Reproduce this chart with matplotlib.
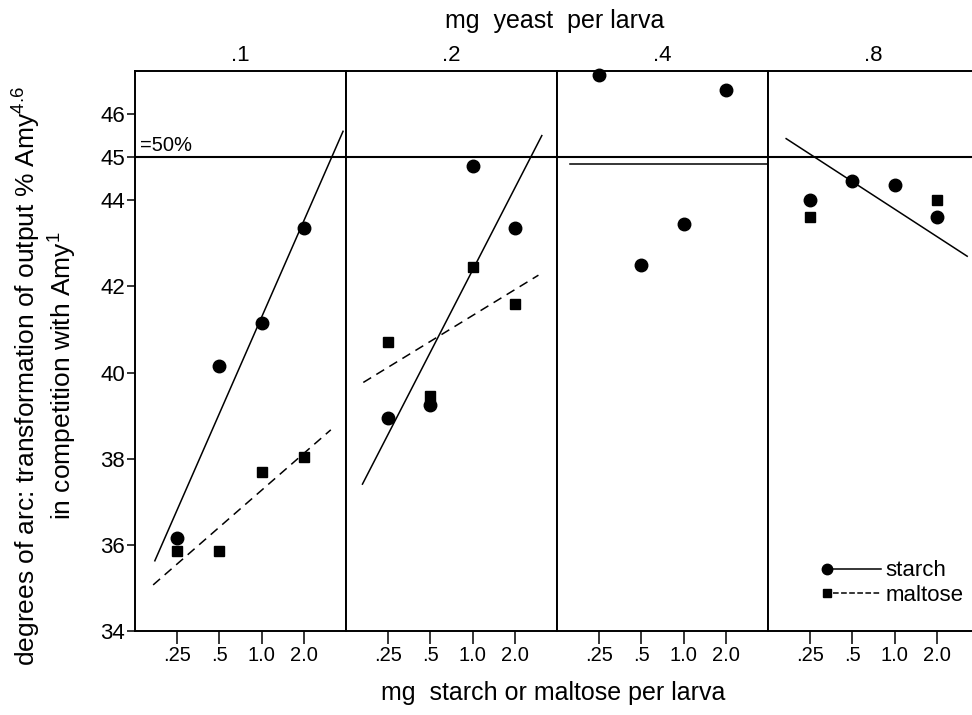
import numpy as np
import matplotlib
matplotlib.use("Agg")
import matplotlib.pyplot as plt
from matplotlib.lines import Line2D
from matplotlib.legend_handler import HandlerBase

plt.rcParams['font.family'] = ['Liberation Sans', 'DejaVu Sans']
plt.rcParams['mathtext.default'] = 'regular'

# Data
yeast_levels = ['.1', '.2', '.4', '.8']
sugar_levels = ['.25', '.5', '1.0', '2.0']

starch_vals = [
    [36.15, 40.15, 41.15, 43.35],
    [38.95, 39.25, 44.80, 43.35],
    [46.90, 42.50, 43.45, 46.55],
    [44.00, 44.45, 44.35, 43.60],
]
maltose_vals = [
    [35.85, 35.85, 37.70, 38.05],
    [40.70, 39.45, 42.45, 41.60],
    [np.nan, np.nan, np.nan, np.nan],
    [43.60, np.nan, np.nan, 44.00],
]

# fitted lines per panel: (x start, x end, y start, y end), None = no line
starch_fit = [
    (0.47, 4.93, 35.63, 45.60),
    (0.39, 4.64, 37.41, 45.50),
    (0.30, 5.00, 44.83, 44.83),
    (0.43, 4.72, 45.43, 42.70),
]
maltose_fit = [
    (0.43, 4.64, 35.07, 38.67),
    (0.41, 4.56, 39.77, 42.26),
    None,
    None,
]

fifty_pct = 45

fig = plt.figure(figsize=(9.72, 7.15), dpi=100)

left = 135 / 972
pw = 211 / 972
bottom = 1 - 631 / 715
height = (631 - 71) / 715
xpos = np.arange(1, 5)

axes = []
for i in range(4):
    w = pw if i < 3 else (972 - 767) / 972
    ax = fig.add_axes([left + i * pw, bottom, w, height])
    axes.append(ax)

    ax.plot(xpos, starch_vals[i], 'o', color='black', ms=9, zorder=3,
            clip_on=False)
    ax.plot(xpos, maltose_vals[i], 's', color='black', ms=6.5, zorder=3)

    f = starch_fit[i]
    ax.plot([f[0], f[1]], [f[2], f[3]], '-', color='black', lw=1.1)
    f = maltose_fit[i]
    if f is not None:
        ax.plot([f[0], f[1]], [f[2], f[3]], color='black', lw=1.1,
                linestyle=(0, (6, 4)))

    ax.axhline(fifty_pct, color='black', lw=1.5)

    ax.set_ylim(34, 47)
    ax.set_xlim(0, 5 if i < 3 else 205 / 42.2)
    ax.set_xticks(xpos)
    ax.set_xticklabels(sugar_levels, fontsize=14.5)
    ax.tick_params(axis='x', direction='out', length=9, width=1.1, pad=2)

    for s in ax.spines.values():
        s.set_linewidth(1.4)
    if i == 3:
        ax.spines['right'].set_visible(False)

    if i == 0:
        ax.set_yticks([34, 36, 38, 40, 42, 44, 45, 46])
        ax.tick_params(axis='y', direction='out', length=6, width=1.1,
                       labelsize=16, pad=1)
    else:
        ax.set_yticks([])

    ax.text(2.5, 47.35, yeast_levels[i], ha='center', va='center', fontsize=16)

axes[0].text(0.12, 45.05, '=50%', ha='left', va='bottom', fontsize=14.5)


class MarkerLineHandler(HandlerBase):
    def create_artists(self, legend, orig_handle, xdescent, ydescent,
                       width, height, fontsize, trans):
        y = height / 2 - ydescent
        x0 = -xdescent
        ln = Line2D([x0 + 0.16 * width, x0 + width], [y, y], color='black',
                    lw=1.1, linestyle=orig_handle.get_linestyle())
        mk = Line2D([x0 + 0.07 * width], [y], marker=orig_handle.get_marker(),
                    ms=orig_handle.get_markersize(), color='black',
                    linestyle='none')
        ln.set_transform(trans)
        mk.set_transform(trans)
        return [ln, mk]


h_starch = Line2D([], [], color='black', marker='o', ms=7.5, linestyle='-')
h_maltose = Line2D([], [], color='black', marker='s', ms=5.5,
                   linestyle=(0, (4, 3)))
axes[3].legend([h_starch, h_maltose], ['starch', 'maltose'],
               handler_map={Line2D: MarkerLineHandler()},
               loc='lower left', bbox_to_anchor=(0.27, 0.045),
               frameon=False, fontsize=16, handlelength=2.6,
               handletextpad=0.2, labelspacing=0.15, borderpad=0,
               borderaxespad=0)

fig.text(555 / 972, 1 - 28 / 715, 'mg  yeast  per larva', ha='center',
         va='baseline', fontsize=18)
fig.text(553 / 972, 1 - 700 / 715, 'mg  starch or maltose per larva',
         ha='center', va='baseline', fontsize=18)
fig.text(45 / 972, 1 - 376 / 715,
         'degrees of arc: transformation of output % Amy$^{4.6}$\n'
         'in competition with Amy$^{1}$',
         rotation=90, ha='center', va='center', fontsize=19,
         multialignment='center', linespacing=1.15)

plt.savefig("out.png", dpi=100)
